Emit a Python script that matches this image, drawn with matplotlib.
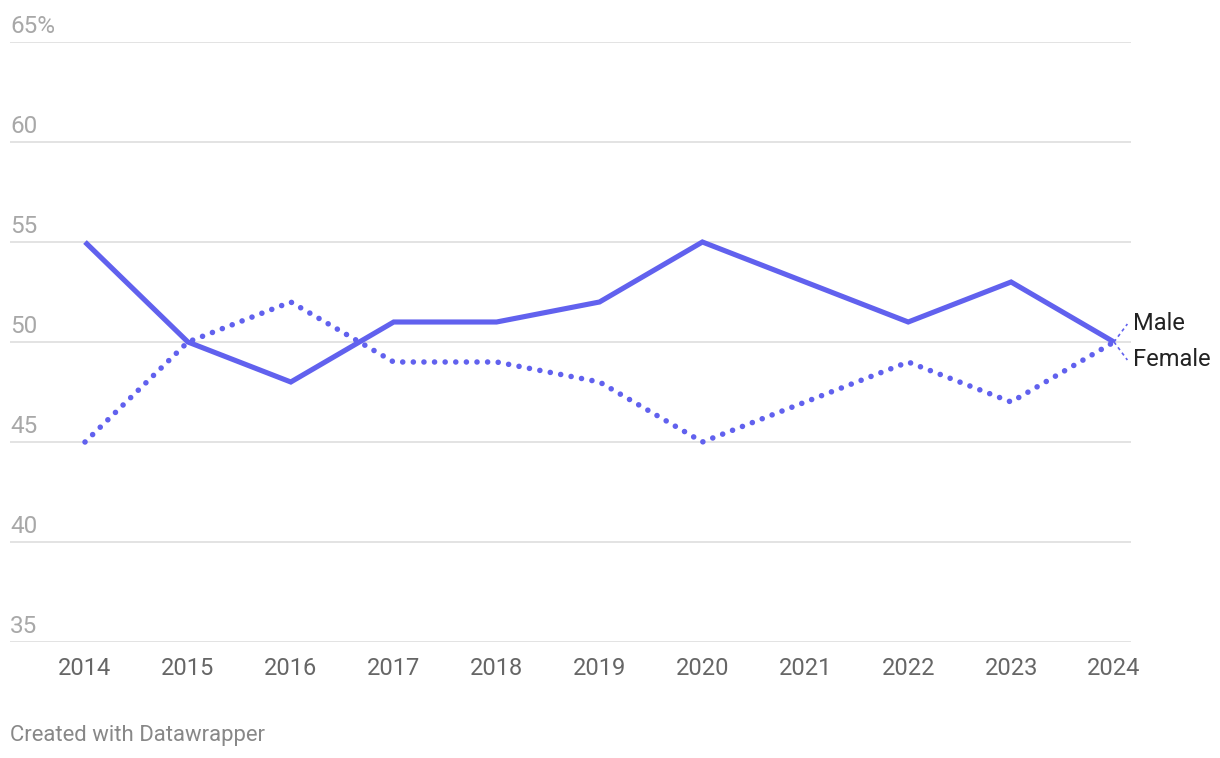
import numpy as np
import matplotlib
matplotlib.use('Agg')
import matplotlib.pyplot as plt
import matplotlib.transforms as mtransforms

plt.rcParams['font.family'] = ['Roboto', 'DejaVu Sans']

# Data
years = [2014, 2015, 2016, 2017, 2018, 2019, 2020, 2021, 2022, 2023, 2024]
male = [55, 50, 48, 51, 51, 52, 55, 53, 51, 53, 50]
female = [45, 50, 52, 49, 49, 48, 45, 47, 49, 47, 50]
y_ticks = [35, 40, 45, 50, 55, 60, 65]
y_labels = ['35', '40', '45', '50', '55', '60', '65%']

color = '#6161ee'

fig = plt.figure(figsize=(12.2, 7.58), dpi=100)
ax = fig.add_axes([10 / 1220, 1 - 642 / 758, 1121 / 1220, 600 / 758])

ax.plot(years, male, color=color, lw=3.7, solid_capstyle='butt', solid_joinstyle='miter', zorder=3)
ax.plot(years, female, color=color, lw=4.0, linestyle=(0, (0.01, 1.9)),
        dash_capstyle='round', zorder=3)

# connector lines to end labels
ax.plot([years[-1], years[-1] + 0.13], [male[-1], male[-1] + 0.9], color=color,
        lw=1.2, ls=(0, (2, 2)), clip_on=False, zorder=2)
ax.plot([years[-1], years[-1] + 0.13], [female[-1], female[-1] - 0.9], color=color,
        lw=1.2, ls=(0, (2, 2)), clip_on=False, zorder=2)
ax.text(years[-1] + 0.18, male[-1] + 0.9, 'Male', fontsize=17, color='#222222',
        va='center', ha='left', clip_on=False)
ax.text(years[-1] + 0.18, female[-1] - 0.9, 'Female', fontsize=17, color='#222222',
        va='center', ha='left', clip_on=False)

ax.set_xlim(2014 - 75 / 102.9, 2024 + 17 / 102.9)
ax.set_ylim(35, 65)

for s in ax.spines.values():
    s.set_visible(False)
ax.set_yticks([])
for t in y_ticks:
    ax.axhline(t, color='#e0e0e0', lw=1.3, zorder=1)

trans = mtransforms.blended_transform_factory(ax.transAxes, ax.transData)
for t, lab in zip(y_ticks, y_labels):
    ax.text(0, t + 0.45, lab, transform=trans, fontsize=17.5, color='#a8a8a8',
            ha='left', va='baseline')

ax.set_xticks(years)
ax.set_xticklabels([str(y) for y in years])
ax.tick_params(axis='x', length=0, pad=11, labelsize=17, labelcolor='#666666')

fig.text(10 / 1220, 1 - 735 / 758, 'Created with Datawrapper', fontsize=15.9,
         color='#888888', ha='left', va='center')

fig.savefig('out.png', dpi=100)
